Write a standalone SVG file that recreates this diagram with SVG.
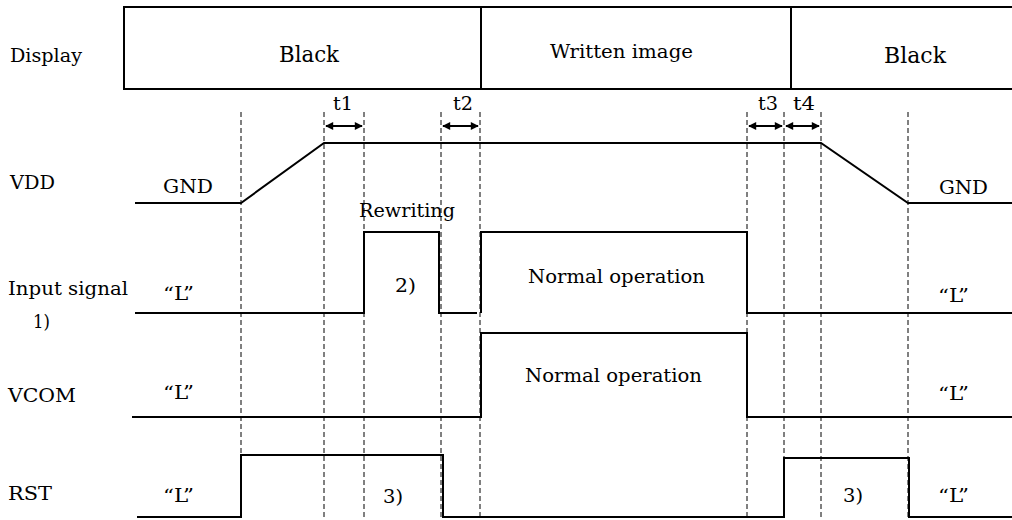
<svg xmlns="http://www.w3.org/2000/svg" width="1012" height="520" viewBox="0 0 1012 520">
<style>
text{font-family:"DejaVu Serif","Liberation Serif",serif;fill:#000;}
.lbl{font-size:19px;}
.big{font-size:22px;}
.sm{font-size:18px;}
.wave{fill:none;stroke:#000;stroke-width:2;}
.dash{fill:none;stroke:#000;stroke-width:1;stroke-dasharray:5,3;}
.arr{stroke:#000;stroke-width:2;marker-start:url(#ah);marker-end:url(#ah);}
</style>
<defs>
<marker id="ah" viewBox="0 0 10 10" refX="9" refY="5" markerWidth="9" markerHeight="8" markerUnits="userSpaceOnUse" orient="auto-start-reverse">
<path d="M0,0 L10,5 L0,10 Z" fill="#000"/>
</marker>
</defs>
<rect width="1012" height="520" fill="#fff"/>

<g id="display">
<path class="wave" d="M1014,7 H124 V89 H1014 M481,7 V89 M791,7 V89"/>
<text class="lbl" x="10" y="62" textLength="72" lengthAdjust="spacingAndGlyphs">Display</text>
<text class="big" x="279" y="62" textLength="60" lengthAdjust="spacingAndGlyphs">Black</text>
<text class="lbl" x="550" y="58" textLength="143" lengthAdjust="spacingAndGlyphs">Written image</text>
<text class="big" x="884" y="63" textLength="62" lengthAdjust="spacingAndGlyphs">Black</text>
</g>

<g id="guides">
<path class="dash" d="M241,112 V520 M324,112 V520 M364,112 V520 M441,112 V520 M480,112 V520 M747,112 V520 M784,112 V520 M821,112 V520 M908,112 V520"/>
</g>

<g id="timing">
<line class="arr" x1="326" y1="126" x2="362" y2="126"/>
<line class="arr" x1="443" y1="126" x2="478" y2="126"/>
<line class="arr" x1="749" y1="126" x2="782" y2="126"/>
<line class="arr" x1="786" y1="126" x2="819" y2="126"/>
<text class="lbl" x="333" y="110" textLength="20" lengthAdjust="spacingAndGlyphs">t1</text>
<text class="lbl" x="453" y="110" textLength="20" lengthAdjust="spacingAndGlyphs">t2</text>
<text class="lbl" x="758" y="110" textLength="20" lengthAdjust="spacingAndGlyphs">t3</text>
<text class="lbl" x="793" y="110" textLength="22" lengthAdjust="spacingAndGlyphs">t4</text>
</g>

<g id="vdd">
<path class="wave" d="M135,203 H241 L324,143 H821 L908,203 H1014"/>
<text class="lbl" x="10" y="189" textLength="45" lengthAdjust="spacingAndGlyphs">VDD</text>
<text class="lbl" x="163" y="193" textLength="50" lengthAdjust="spacingAndGlyphs">GND</text>
<text class="lbl" x="939" y="194" textLength="49" lengthAdjust="spacingAndGlyphs">GND</text>
</g>

<g id="input">
<path class="wave" d="M135,313 H364 V232 H439 V313 H477 M481,313 V232 H747 V313 H1014"/>
<text class="lbl" x="8" y="295" textLength="120" lengthAdjust="spacingAndGlyphs">Input signal</text>
<text class="lbl" x="33" y="328" textLength="17" lengthAdjust="spacingAndGlyphs">1)</text>
<text class="sm" x="163" y="300" textLength="31" lengthAdjust="spacingAndGlyphs">“L”</text>
<text class="sm" x="359" y="217" textLength="96" lengthAdjust="spacingAndGlyphs">Rewriting</text>
<text class="lbl" x="395" y="292" textLength="21" lengthAdjust="spacingAndGlyphs">2)</text>
<text class="sm" x="528" y="283" textLength="177" lengthAdjust="spacingAndGlyphs">Normal operation</text>
<text class="sm" x="938" y="302" textLength="31" lengthAdjust="spacingAndGlyphs">“L”</text>
</g>

<g id="vcom">
<path class="wave" d="M132,417 H481 V333 H747 V417 H1014"/>
<text class="lbl" x="8" y="402" textLength="68" lengthAdjust="spacingAndGlyphs">VCOM</text>
<text class="sm" x="163" y="399" textLength="31" lengthAdjust="spacingAndGlyphs">“L”</text>
<text class="sm" x="525" y="382" textLength="177" lengthAdjust="spacingAndGlyphs">Normal operation</text>
<text class="sm" x="938" y="400" textLength="31" lengthAdjust="spacingAndGlyphs">“L”</text>
</g>

<g id="rst">
<path class="wave" d="M137,517 H241 V455 H443 V517 H784 V458 H909 V517 H1014"/>
<text class="lbl" x="8" y="500" textLength="44" lengthAdjust="spacingAndGlyphs">RST</text>
<text class="sm" x="163" y="502" textLength="31" lengthAdjust="spacingAndGlyphs">“L”</text>
<text class="lbl" x="383" y="503" textLength="20" lengthAdjust="spacingAndGlyphs">3)</text>
<text class="lbl" x="843" y="502" textLength="20" lengthAdjust="spacingAndGlyphs">3)</text>
<text class="sm" x="938" y="502" textLength="31" lengthAdjust="spacingAndGlyphs">“L”</text>
</g>
</svg>
